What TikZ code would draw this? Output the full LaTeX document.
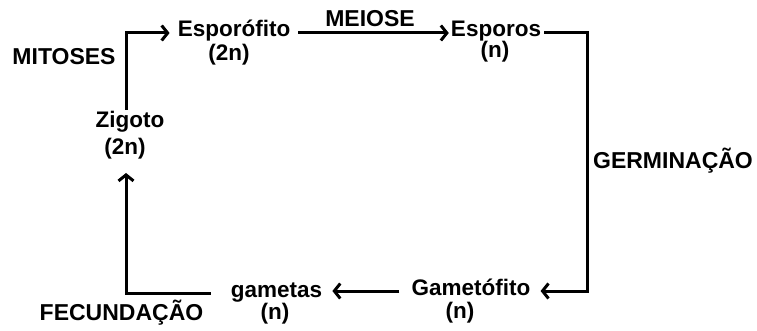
\documentclass[tikz,border=0pt]{standalone}
\usepackage{fontspec}
\setmainfont{Liberation Sans}
\usetikzlibrary{arrows.meta}
\tikzstyle{stage}=[anchor=base, inner sep=0pt, text height=8pt, text depth=0pt, font=\fontsize{22.5}{25}\selectfont\bfseries]
\tikzstyle{ploidy}=[anchor=base, inner sep=0pt, font=\fontsize{22.5}{25}\selectfont\bfseries]
\tikzstyle{phase}=[anchor=base, inner sep=0pt, font=\fontsize{23}{27}\selectfont\bfseries]
\tikzstyle{flow}=[line width=3pt, -{Straight Barb[length=6pt, width=15pt, line width=3pt]}]
\tikzstyle{link}=[line width=3pt]

\begin{document}
\begin{tikzpicture}[x=1pt, y=-1pt]
	\useasboundingbox (0,0) rectangle (757,331);

	% Stages of the life cycle
	\node[stage, text height=18pt] (zig) at (130,128) {Zigoto};
	\node[ploidy] (zign) at (125,155) {(2n)};
	\node[stage] (esp) at (234,37) {Esporófito};
	\node[ploidy] (espn) at (229,61) {(2n)};
	\node[stage] (spo) at (496,37) {Esporos};
	\node[ploidy] (spon) at (495,58) {(n)};
	\node[stage] (gam) at (471,295) {Gametófito};
	\node[ploidy] (gamn) at (460,318) {(n)};
	\node[stage] (gmt) at (276.5,297) {gametas};
	\node[ploidy] (gmtn) at (275,319) {(n)};

	% Processes
	\node[phase] (mit) at (64,65) {MITOSES};
	\node[phase] (mei) at (370,27) {MEIOSE};
	\node[phase] (ger) at (673,168) {GERMINAÇÃO};
	\node[phase] (fec) at (121.5,320) {FECUNDAÇÃO};

	\coordinate (rc) at (587,160);

	\draw[flow] ([xshift=-4pt]zig.north) |- ([xshift=-8pt]esp.west);
	\draw[flow, shorten <=8pt, shorten >=2pt] (esp) -- (spo);
	\draw[flow, shorten <=3pt] (spo.east) -| (rc) |- ([xshift=10pt]gam.east);
	\draw[flow, shorten <=12pt, shorten >=10pt] (gam.west) -- (gam.west -| gmt.east);
	\draw[link] ([xshift=-20pt]gmt.west) -| ([shift={(1pt,-20pt)}]zign.base);
	\draw[flow] ([shift={(1pt,-21pt)}]zign.base) -- ([shift={(1pt,-18pt)}]zign.base);
\end{tikzpicture}
\end{document}
